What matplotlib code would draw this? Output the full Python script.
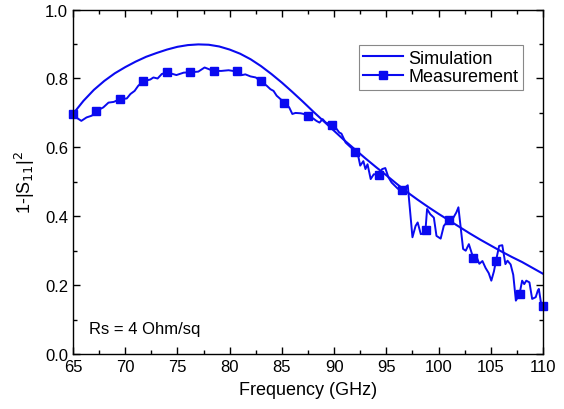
import matplotlib
matplotlib.use("Agg")
import matplotlib.pyplot as plt
from matplotlib.lines import Line2D
from matplotlib.ticker import MultipleLocator

# simulated curve, every 1 GHz
sim_freq = [65, 66, 67, 68, 69, 70, 71, 72, 73, 74, 75, 76, 77, 78, 79, 80,
            81, 82, 83, 84, 85, 86, 87, 88, 89, 90, 91, 92, 93, 94, 95, 96,
            97, 98, 99, 100, 101, 102, 103, 104, 105, 106, 107, 108, 109, 110]
sim_val = [0.697, 0.735, 0.767, 0.793, 0.815, 0.833, 0.849, 0.863, 0.874,
           0.884, 0.892, 0.897, 0.899, 0.898, 0.893, 0.884, 0.872, 0.856,
           0.836, 0.813, 0.788, 0.761, 0.733, 0.704, 0.676, 0.648, 0.620,
           0.594, 0.568, 0.543, 0.519, 0.494, 0.470, 0.448, 0.427, 0.407,
           0.388, 0.369, 0.350, 0.332, 0.315, 0.298, 0.282, 0.267, 0.250,
           0.233]

# measured trace
meas_freq = [65.0, 65.4, 65.8, 66.3, 66.8, 67.25, 67.9, 68.4, 68.9, 69.5,
             70.15, 70.5, 70.9, 71.25, 71.75, 72.4, 72.7, 73.1, 73.5, 74.0,
             74.9, 75.6, 76.25, 77.0, 77.6, 78.1, 78.5, 79.2, 79.9, 80.75,
             81.2, 81.5, 82.0, 82.5, 83.0, 83.55, 83.9, 84.2, 84.5, 85.25,
             85.7, 86.0, 86.3, 86.8, 87.1, 87.5, 88.0, 88.3, 88.6, 88.9,
             89.2, 89.75, 90.25, 90.5, 90.7, 91.1, 91.6, 92.0, 92.3, 92.5,
             92.8, 93.0, 93.2, 93.5, 93.8, 94.25, 94.6, 94.9, 95.2, 95.5,
             95.8, 96.1, 96.5, 97.05, 97.5, 97.8, 98.0, 98.3, 98.5, 98.75,
             98.9, 99.2, 99.55, 99.8, 100.2, 100.5, 101.0, 101.4, 101.7, 101.9,
             102.35, 102.6, 102.9, 103.1, 103.3, 103.6, 103.9, 104.2, 104.5, 104.8,
             105.05, 105.3, 105.5, 105.8, 106.1, 106.4, 106.6, 106.9, 107.15, 107.4,
             107.75, 108.0, 108.2, 108.4, 108.7, 108.96, 109.3, 109.5, 109.6, 109.85,
             110.0]
meas_val = [0.697, 0.685, 0.677, 0.687, 0.692, 0.706, 0.716, 0.730, 0.732, 0.740,
            0.742, 0.755, 0.764, 0.779, 0.792, 0.797, 0.803, 0.800, 0.813, 0.818,
            0.810, 0.817, 0.818, 0.820, 0.832, 0.826, 0.822, 0.822, 0.824, 0.820,
            0.810, 0.812, 0.806, 0.803, 0.791, 0.779, 0.769, 0.764, 0.750, 0.730,
            0.716, 0.697, 0.700, 0.699, 0.697, 0.690, 0.684, 0.677, 0.672, 0.682,
            0.672, 0.667, 0.653, 0.643, 0.640, 0.614, 0.600, 0.590, 0.576, 0.547,
            0.560, 0.537, 0.551, 0.508, 0.522, 0.520, 0.537, 0.540, 0.513, 0.498,
            0.489, 0.480, 0.476, 0.490, 0.339, 0.372, 0.382, 0.348, 0.350, 0.361,
            0.421, 0.406, 0.396, 0.343, 0.335, 0.372, 0.390, 0.395, 0.411, 0.426,
            0.305, 0.300, 0.319, 0.300, 0.281, 0.285, 0.262, 0.270, 0.250, 0.235,
            0.213, 0.240, 0.271, 0.314, 0.316, 0.261, 0.271, 0.260, 0.230, 0.155,
            0.174, 0.213, 0.203, 0.213, 0.208, 0.160, 0.165, 0.184, 0.189, 0.140,
            0.140]

# square markers on the measured trace
mark_freq = [65.0, 67.25, 69.5, 71.75, 74.0, 76.25, 78.5, 80.75, 83.0, 85.25,
             87.5, 89.75, 92.0, 94.25, 96.5, 98.75, 101.0, 103.25, 105.5,
             107.75, 110.0]
mark_val = [0.697, 0.706, 0.740, 0.793, 0.818, 0.818, 0.822, 0.822, 0.793,
            0.730, 0.690, 0.665, 0.588, 0.520, 0.476, 0.361, 0.390, 0.280,
            0.271, 0.174, 0.140]

plt.rcParams["font.family"] = ["Liberation Sans", "DejaVu Sans"]
color = "#0a0af0"

fig = plt.figure(figsize=(5.64, 4.10), dpi=100)
ax = fig.add_axes([0.1294, 0.1341, 0.8334, 0.8400])

ax.plot(sim_freq, sim_val, color=color, lw=1.5)
ax.plot(meas_freq, meas_val, color=color, lw=1.4)
ax.plot(mark_freq, mark_val, "s", color=color, ms=6, clip_on=False)

ax.set_xlim(65, 110)
ax.set_ylim(0, 1.0)
ax.xaxis.set_major_locator(MultipleLocator(5))
ax.xaxis.set_minor_locator(MultipleLocator(2.5))
ax.yaxis.set_major_locator(MultipleLocator(0.2))
ax.yaxis.set_minor_locator(MultipleLocator(0.1))
ax.tick_params(which="both", direction="in", top=True, right=True,
               labelsize=12, width=1)
ax.tick_params(which="major", length=5)
ax.tick_params(which="minor", length=3)
ax.set_yticks([0, 0.2, 0.4, 0.6, 0.8, 1.0])
ax.set_yticklabels(["0.0", "0.2", "0.4", "0.6", "0.8", "1.0"])
for s in ax.spines.values():
    s.set_linewidth(1.0)

ax.set_xlabel("Frequency (GHz)", fontsize=13, labelpad=5)
ax.set_ylabel(r"1-|S$_{11}$|$^{2}$", fontsize=13, labelpad=6)

ax.text(0.035, 0.075, "Rs = 4 Ohm/sq", transform=ax.transAxes,
        fontsize=12, va="center", ha="left")

handles = [Line2D([], [], color=color, lw=1.5),
           Line2D([], [], color=color, lw=1.5, marker="s", ms=6)]
leg = ax.legend(handles, ["Simulation", "Measurement"], loc="upper right",
                bbox_to_anchor=(0.957, 0.897), fontsize=13, fancybox=False,
                edgecolor="#888888", framealpha=1, borderaxespad=0,
                handlelength=2.2, handletextpad=0.3, borderpad=0.25,
                labelspacing=0.1)
leg.get_frame().set_linewidth(0.8)

fig.savefig("out.png", dpi=100)
